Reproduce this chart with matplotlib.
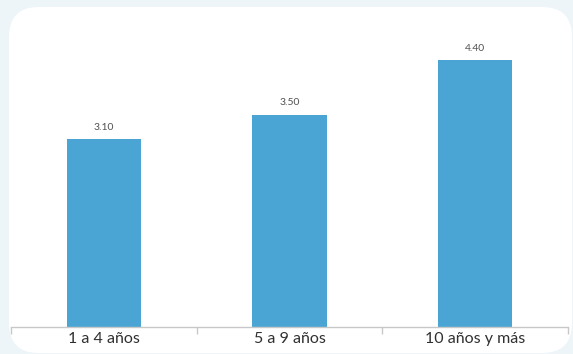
import matplotlib
matplotlib.use("Agg")
import matplotlib.pyplot as plt
from matplotlib.patches import FancyBboxPatch

categories = ["1 a 4 años", "5 a 9 años", "10 años y más"]
values = [3.10, 3.50, 4.40]

W, H = 573, 354
fig = plt.figure(figsize=(W / 100, H / 100), dpi=100)
fig.patch.set_facecolor("#EEF5F9")

# background layer in pixel units holding the rounded white card
bg = fig.add_axes([0, 0, 1, 1], zorder=0)
bg.set_xlim(0, W)
bg.set_ylim(H, 0)
bg.axis("off")
bg.add_patch(FancyBboxPatch((9, 7), 563, 346,
                            boxstyle="round,pad=0,rounding_size=30",
                            facecolor="white", edgecolor="none"))

left, right = 11, 568
base, top = 327, 24
ax = fig.add_axes([left / W, 1 - base / H, (right - left) / W, (base - top) / H],
                  zorder=1)
ax.set_facecolor("none")

x = range(len(categories))
bars = ax.bar(x, values, width=0.4, color="#4AA5D4", zorder=2)
for b, v in zip(bars, values):
    ax.annotate(f"{v:.2f}", (b.get_x() + b.get_width() / 2, v),
                xytext=(0, 5.5), textcoords="offset points",
                ha="center", va="bottom", fontsize=7.5, color="#505050",
                family="Lato")

ax.set_xlim(-0.5, len(categories) - 0.5)
ax.set_ylim(0, 5)
ax.set_yticks([])
for s in ("top", "right", "left"):
    ax.spines[s].set_visible(False)
ax.spines["bottom"].set_color("#C8C8C8")
ax.spines["bottom"].set_linewidth(1.0)

ax.set_xticks([i + 0.5 for i in range(-1, len(categories))], minor=False)
ax.set_xticklabels([])
ax.tick_params(axis="x", length=5, color="#C8C8C8", width=1.0)
ax.set_xticks(list(x), minor=True)
ax.set_xticklabels(categories, minor=True, fontsize=11.5, color="#303030",
                   family="Lato")
ax.tick_params(axis="x", which="minor", length=0, pad=3.5)

fig.savefig("out.png", dpi=100, facecolor=fig.get_facecolor())
